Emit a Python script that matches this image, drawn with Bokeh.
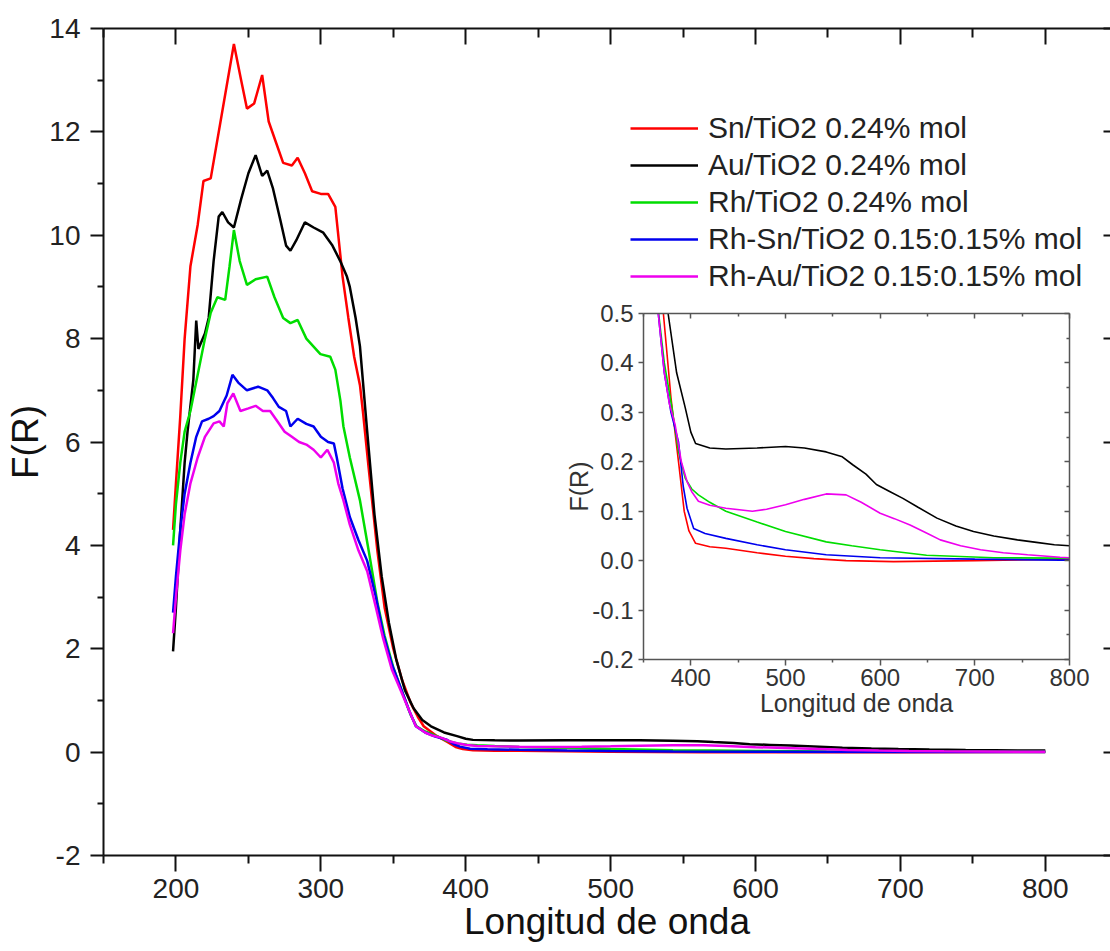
from bokeh.plotting import figure
from bokeh.models import (Range1d, LinearAxis, FixedTicker, Legend, LegendItem,
                          GridBox, NumeralTickFormatter)
from bokeh.embed import file_html
from bokeh.resources import INLINE

FONT = "Liberation Sans"

# ---------------- data ----------------
labels = ["Sn/TiO2 0.24% mol", "Au/TiO2 0.24% mol", "Rh/TiO2 0.24% mol",
          "Rh-Sn/TiO2 0.15:0.15% mol", "Rh-Au/TiO2 0.15:0.15% mol"]
colors = ["#FF0000", "#000000", "#00DD00", "#0000EE", "#EE00EE"]

wl_sn = [198, 200, 203, 206, 210, 215, 219, 224, 232, 240, 245, 249, 254, 259.5, 264,
         269, 274, 280, 284, 289, 294, 300, 305, 310, 315, 319, 323, 327, 329, 333,
         339, 344, 350, 356, 362, 367, 371, 379, 387, 393, 398, 405, 420, 437, 470,
         500, 530, 564, 614, 700, 790, 800]
fr_sn = [4.3, 5.2, 6.5, 8.0, 9.4, 10.2, 11.05, 11.1, 12.4, 13.7, 13.0, 12.45, 12.55, 13.1, 12.2,
         11.8, 11.4, 11.35, 11.5, 11.2, 10.85, 10.8, 10.8, 10.55, 9.2, 8.4, 7.65, 7.1, 6.6, 5.5,
         3.9, 2.8, 2.0, 1.4, 0.95, 0.68, 0.5, 0.33, 0.2, 0.1, 0.06, 0.035, 0.028, 0.025, 0.016,
         0.009, 0.004, 0.0, -0.002, 0.0, 0.003, 0.003]

wl_au = [198, 200, 203, 206, 208, 212, 214, 215.5, 217, 220, 222.6, 226, 229.5, 232, 236,
         240, 245, 250, 255, 259.5, 263, 267, 272, 276, 279, 283, 289, 295, 301.7, 308,
         313.4, 318, 320, 324, 327, 332, 337, 342, 347, 352, 358, 364, 370, 376, 385,
         394, 400, 405, 420, 437, 470, 500, 520, 543, 560, 571, 585, 596, 610, 624,
         640, 660, 680, 698.6, 720, 745, 765, 784, 800]
fr_au = [1.95, 2.8, 4.3, 5.6, 6.2, 7.2, 8.35, 7.8, 7.9, 8.1, 8.4, 9.5, 10.36, 10.45, 10.25,
         10.15, 10.7, 11.2, 11.55, 11.15, 11.25, 10.9, 10.3, 9.8, 9.7, 9.9, 10.25, 10.15, 10.05, 9.8,
         9.5, 9.2, 9.0, 8.4, 7.85, 6.2, 4.6, 3.4, 2.5, 1.8, 1.2, 0.85, 0.62, 0.5, 0.38,
         0.31, 0.26, 0.237, 0.228, 0.226, 0.228, 0.231, 0.228, 0.22, 0.21, 0.194, 0.175, 0.154, 0.14, 0.126,
         0.108, 0.086, 0.07, 0.059, 0.05, 0.042, 0.037, 0.032, 0.03]

wl_rh = [198, 200, 203, 206, 210, 215, 220, 224, 228.6, 234, 237, 240, 244, 249, 255,
         263, 268, 274, 279, 284, 290, 299.7, 306.5, 310, 313.5, 315.6, 320, 327, 333, 339,
         344, 350, 357, 362, 366, 372, 380, 387, 394, 401, 408, 420, 437, 470, 500,
         543, 570, 600, 649, 720, 790, 800]
fr_rh = [4.0, 4.8, 5.6, 6.2, 6.6, 7.3, 8.0, 8.5, 8.8, 8.75, 9.4, 10.1, 9.5, 9.04, 9.15,
         9.2, 8.8, 8.4, 8.3, 8.36, 8.0, 7.7, 7.65, 7.4, 6.8, 6.3, 5.7, 4.87, 3.9, 2.9,
         2.25, 1.64, 1.1, 0.72, 0.5, 0.4, 0.31, 0.22, 0.167, 0.145, 0.133, 0.118, 0.1, 0.078, 0.059,
         0.038, 0.03, 0.022, 0.011, 0.006, 0.005, 0.005]

wl_rhsn = [198, 200, 203, 206, 210, 214, 218, 222.6, 226, 230, 235, 239, 243, 249, 256.7,
           263, 267, 271, 276, 279, 284, 290, 295, 300, 305, 309, 311, 315, 320, 326,
           332, 338, 343, 349, 355, 361, 365.6, 372, 379, 387, 392, 396, 403, 415, 437,
           470, 500, 543, 600, 700, 790, 800]
fr_rhsn = [2.7, 3.4, 4.3, 5.0, 5.6, 6.1, 6.4, 6.45, 6.5, 6.6, 6.9, 7.3, 7.15, 7.0, 7.07,
           7.0, 6.85, 6.68, 6.6, 6.3, 6.45, 6.35, 6.3, 6.1, 6.0, 5.97, 5.7, 5.1, 4.55, 4.1,
           3.7, 3.0, 2.3, 1.7, 1.25, 0.8, 0.5, 0.38, 0.3, 0.24, 0.15, 0.106, 0.065, 0.055, 0.045,
           0.032, 0.022, 0.012, 0.006, 0.003, 0.001, 0.001]

wl_rhau = [198, 200, 203, 206, 210, 215, 220, 226, 230, 233, 235.5, 239.6, 244.5, 250, 255,
           260, 265, 270, 275, 280, 285, 290, 295, 300, 304.5, 309, 312, 315.6, 320, 326,
           332, 338, 343, 349, 355, 361, 365.6, 372, 377, 383.4, 390, 396, 400.8, 408, 420,
           437, 465, 480, 500, 520, 543, 564, 580, 600, 615, 631.6, 650, 663.5, 685, 706,
           730, 755.7, 790, 800]
fr_rhau = [2.3, 3.0, 3.9, 4.6, 5.2, 5.7, 6.1, 6.36, 6.4, 6.3, 6.75, 6.94, 6.6, 6.65, 6.7,
           6.6, 6.6, 6.4, 6.2, 6.1, 6.0, 5.95, 5.85, 5.7, 5.85, 5.6, 5.2, 4.87, 4.4, 3.9,
           3.5, 2.8, 2.2, 1.6, 1.2, 0.8, 0.5, 0.38, 0.32, 0.275, 0.2, 0.16, 0.14, 0.12, 0.112,
           0.106, 0.1, 0.104, 0.113, 0.124, 0.135, 0.133, 0.118, 0.096, 0.085, 0.072, 0.055, 0.042, 0.03, 0.022,
           0.016, 0.012, 0.007, 0.006]

series = [(wl_sn, fr_sn), (wl_au, fr_au), (wl_rh, fr_rh), (wl_rhsn, fr_rhsn), (wl_rhau, fr_rhau)]

main_x_major = [200, 300, 400, 500, 600, 700, 800]
main_x_minor = [150, 250, 350, 450, 550, 650, 750, 850]
main_y_major = [-2, 0, 2, 4, 6, 8, 10, 12, 14]
main_y_minor = [-1, 1, 3, 5, 7, 9, 11, 13]
ins_x_major = [400, 500, 600, 700, 800]
ins_x_minor = [350, 450, 550, 650, 750]
ins_y_major = [-0.2, -0.1, 0.0, 0.1, 0.2, 0.3, 0.4, 0.5]
ins_y_minor = [-0.15, -0.05, 0.05, 0.15, 0.25, 0.35, 0.45]

# ---------------- main figure ----------------
p = figure(width=1110, height=951, output_backend="svg", toolbar_location=None,
           x_range=Range1d(150, 845), y_range=Range1d(-2, 14),
           min_border_left=103, min_border_right=0, min_border_top=28, min_border_bottom=96)
p.outline_line_color = None
p.grid.visible = False
p.background_fill_color = "white"
p.border_fill_color = "white"

renderers = []
for (wl, fr), c in zip(series, colors):
    renderers.append(p.line(wl, fr, line_color=c, line_width=2.5))

xb = p.below[0]
yl = p.left[0]
xb.ticker = FixedTicker(ticks=main_x_major, minor_ticks=main_x_minor)
yl.ticker = FixedTicker(ticks=main_y_major, minor_ticks=main_y_minor)
yl.formatter = NumeralTickFormatter(format="0")
for ax in (xb, yl):
    ax.axis_line_width = 2
    ax.axis_line_color = "#111111"
    ax.major_tick_line_width = 2
    ax.minor_tick_line_width = 2
    ax.major_tick_line_color = "#111111"
    ax.minor_tick_line_color = "#111111"
    ax.major_tick_in = 0
    ax.minor_tick_in = 0
    ax.major_label_text_font = FONT
    ax.major_label_text_font_size = "28px"
    ax.major_label_text_color = "#222222"
    ax.axis_label_text_font = FONT
    ax.axis_label_text_font_style = "normal"
    ax.axis_label_text_color = "#111111"
    ax.axis_label_text_font_size = "37px"
    ax.axis_label_standoff = 0
xb.major_tick_out = 16
xb.minor_tick_out = 8
xb.major_label_standoff = 7
xb.axis_label = "Longitud de onda"
yl.major_tick_out = 13
yl.minor_tick_out = 6
yl.major_label_standoff = 10
yl.axis_label = "F(R)"

top = LinearAxis(ticker=FixedTicker(ticks=main_x_major, minor_ticks=main_x_minor),
                 major_label_text_color=None, major_label_text_font_size="1px",
                 major_label_standoff=0,
                 axis_line_width=2, axis_line_color="#111111",
                 major_tick_in=16, major_tick_out=0, minor_tick_in=9, minor_tick_out=0,
                 major_tick_line_width=2, minor_tick_line_width=2,
                 major_tick_line_color="#111111", minor_tick_line_color="#111111")
p.add_layout(top, "above")
right = LinearAxis(ticker=FixedTicker(ticks=main_y_major, minor_ticks=[]),
                   major_label_text_color=None, major_label_text_font_size="1px",
                   major_label_standoff=0,
                   axis_line_color=None,
                   major_tick_in=7, major_tick_out=0, minor_tick_in=0, minor_tick_out=0,
                   major_tick_line_width=2, major_tick_line_color="#111111")
p.add_layout(right, "right")

legend = Legend(items=[LegendItem(label=l, renderers=[r]) for l, r in zip(labels, renderers)],
                location=(527, 562), padding=0, margin=0, spacing=3,
                glyph_width=68, glyph_height=34, label_height=34, label_standoff=10,
                label_text_font=FONT, label_text_font_size="30px", label_text_color="#222222",
                border_line_color=None, background_fill_alpha=0)
p.add_layout(legend)

# ---------------- inset figure ----------------
q = figure(width=537, height=431, output_backend="svg", toolbar_location=None,
           x_range=Range1d(350, 800), y_range=Range1d(-0.2, 0.5),
           min_border_left=88, min_border_right=23, min_border_top=15, min_border_bottom=70)
q.outline_line_color = None
q.grid.visible = False
q.background_fill_color = "white"
q.border_fill_color = None

for (wl, fr), c in zip(series, colors):
    q.line(wl, fr, line_color=c, line_width=1.6)

FR = "#555555"
qx = q.below[0]
qy = q.left[0]
qx.ticker = FixedTicker(ticks=ins_x_major, minor_ticks=ins_x_minor)
qy.ticker = FixedTicker(ticks=ins_y_major, minor_ticks=[])
qy.formatter = NumeralTickFormatter(format="0.0")
for ax in (qx, qy):
    ax.axis_line_width = 1.5
    ax.axis_line_color = FR
    ax.major_tick_line_color = FR
    ax.minor_tick_line_color = FR
    ax.major_tick_line_width = 1.5
    ax.minor_tick_line_width = 1.5
    ax.major_tick_in = 0
    ax.minor_tick_in = 0
    ax.major_label_text_font = FONT
    ax.major_label_text_font_size = "24px"
    ax.major_label_text_color = "#333333"
    ax.axis_label_text_font = FONT
    ax.axis_label_text_font_style = "normal"
    ax.axis_label_text_color = "#333333"
    ax.axis_label_text_font_size = "25px"
    ax.axis_label_standoff = 0
qx.major_tick_out = 6
qx.minor_tick_out = 3
qx.major_label_standoff = 3
qx.axis_label = "Longitud de onda"
qy.major_tick_out = 5
qy.minor_tick_out = 0
qy.major_label_standoff = 5
qy.axis_label_standoff = -4
qy.axis_label = "F(R)"

qtop = LinearAxis(ticker=FixedTicker(ticks=ins_x_major, minor_ticks=ins_x_minor),
                  major_label_text_color=None, major_label_text_font_size="1px",
                  major_label_standoff=0,
                  axis_line_width=1.5, axis_line_color=FR,
                  major_tick_in=5, major_tick_out=0, minor_tick_in=3, minor_tick_out=0,
                  major_tick_line_width=1.5, minor_tick_line_width=1.5,
                  major_tick_line_color=FR, minor_tick_line_color=FR)
q.add_layout(qtop, "above")
qright = LinearAxis(ticker=FixedTicker(ticks=ins_y_major, minor_ticks=ins_y_minor),
                    major_label_text_color=None, major_label_text_font_size="1px",
                    major_label_standoff=0,
                    axis_line_width=1.5, axis_line_color=FR,
                    major_tick_in=5, major_tick_out=0, minor_tick_in=3, minor_tick_out=0,
                    major_tick_line_width=1.5, minor_tick_line_width=1.5,
                    major_tick_line_color=FR, minor_tick_line_color=FR)
q.add_layout(qright, "right")

grid = GridBox(children=[(p, 0, 0, 3, 3), (q, 1, 1, 1, 1)],
               rows=["298px", "431px", "222px"], cols=["555px", "537px", "18px"])

open("out.html", "w").write(file_html(grid, INLINE))
